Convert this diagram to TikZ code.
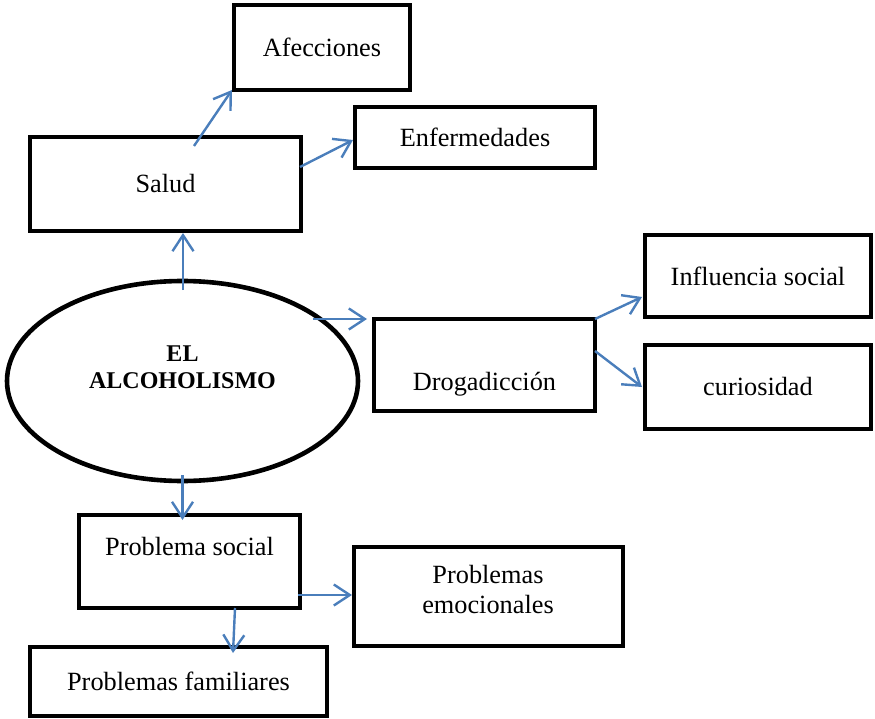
\documentclass[tikz,border=0pt]{standalone}
\usepackage{fontspec}
\setmainfont{Liberation Serif}
\usetikzlibrary{arrows.meta,calc,shapes.geometric}
\definecolor{arrowblue}{HTML}{4A7EBB}
\begin{document}
\begin{tikzpicture}[x=1pt,y=-1pt,
  box/.style={draw=black,line width=4.2pt,rectangle,inner sep=0pt,outer sep=0pt,
    font=\fontsize{26.3}{30}\selectfont},
  txt/.style={inner sep=0pt,outer sep=0pt,align=center,font=\fontsize{26.3}{30}\selectfont},
  conn/.style={draw=arrowblue,line width=2.4pt,-{Straight Barb[length=16pt,width=21pt]}}]
\useasboundingbox (0,0) rectangle (875,719);

% boxes
\node[box,minimum width=176pt,minimum height=85pt] (afe) at (322,47.5) {Afecciones\hspace{12pt}};
\node[box,minimum width=271pt,minimum height=94pt] (salud) at (165.5,184) {Salud};
\node[box,minimum width=240pt,minimum height=61pt] (enf) at (475,137.5) {Enfermedades};
\node[draw=black,line width=4.6pt,ellipse,inner sep=0pt,outer sep=0pt,
      minimum width=351pt,minimum height=200pt] (ell) at (182.5,381) {};
\node[txt,font=\fontsize{24}{27}\selectfont\bfseries] (ellT) at (182.5,367.4) {EL\\ALCOHOLISMO};
\node[box,minimum width=221pt,minimum height=92pt] (drog) at (484.5,365) {};
\node[txt,anchor=base] (drogT) at (484.5,390) {Drogadicción};
\node[box,minimum width=226pt,minimum height=82pt] (infl) at (758,276) {Influencia social};
\node[box,minimum width=226pt,minimum height=84pt] (curi) at (758,387) {curiosidad};
\node[box,minimum width=221pt,minimum height=93pt] (psoc) at (189.5,561.5) {};
\node[txt,anchor=base] (psocT) at (189.5,555) {Problema social};
\node[box,minimum width=269pt,minimum height=99pt] (pemo) at (488.5,596.5) {};
\node[txt] (pemoT) at (488,589.6) {Problemas\\emocionales};
\node[box,minimum width=297pt,minimum height=69pt] (pfam) at (178.5,681.5) {};
\node[txt,anchor=base] (pfamT) at (178.5,690) {Problemas familiares};

% connectors
\draw[conn] ($(salud.north)+(28.5,9)$) -- ($(afe.south west)+(-2,0)$);
\draw[conn] ($(salud.east)+(-1,-17)$) -- ($(enf.west)+(-2,2.5)$);
\draw[conn] ($(ell.north)+(0.5,9)$) -- ($(ell.north |- salud.south)+(0.5,2)$);
\draw[conn] ($(ell.center)+(130,-62)$) -- ($(drog.north west)+(-7,0)$);
\draw[conn] (drog.north east) -- ($(infl.south west)+(-3,-20)$);
\draw[conn] ($(drog.north east)+(0,32)$) -- ($(curi.west)+(-3,0)$);
\draw[conn] ($(ell.south)+(0,-6)$) -- ($(ell.south |- psoc.north)+(0,5)$);
\draw[conn] ($(psoc.east)+(-2,33.5)$) -- ($(pemo.west)+(-2,-1.5)$);
\draw[conn] ($(psoc.south)+(45.5,0)$) -- ($(pfam.north)+(54.5,6)$);
\end{tikzpicture}
\end{document}
